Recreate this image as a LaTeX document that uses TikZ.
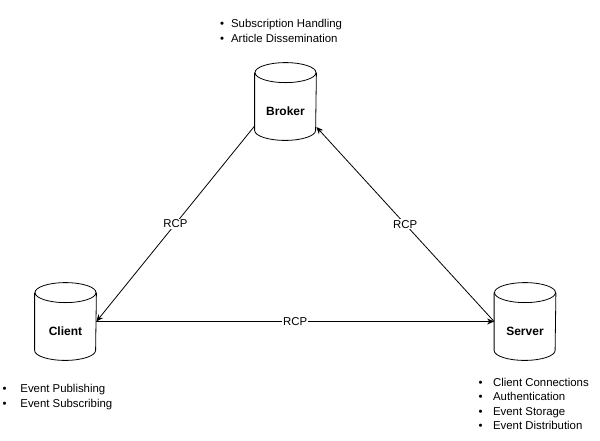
\documentclass[tikz,border=0pt]{standalone}
\usepackage{fontspec}
\setmainfont{Liberation Sans}
\usetikzlibrary{arrows.meta, positioning}

\newcommand{\pkt}[1][11pt]{\makebox[#1][l]{\textbullet}}

\tikzset{
	db/.style={draw=none, inner sep=0pt, minimum width=61pt, minimum height=77pt},
	dbtext/.style={font=\bfseries\fontsize{12}{14}\selectfont, yshift=-10pt},
	rcp/.style={fill=white, inner sep=1pt, font=\fontsize{11.4}{13}\selectfont},
	liste/.style={anchor=north west, align=left, inner sep=0pt, font=\fontsize{11.4}{15}\selectfont},
}

\begin{document}
\begin{tikzpicture}[x=1pt, y=-1pt, line width=0.8pt, >={Stealth[length=7pt,width=6pt]}]
		\useasboundingbox[fill=white] (0,0) rectangle (600,440);
		
		% Knoten
		\node[db, label={[dbtext]center:Broker}] (broker) at (285.5,101.5) {};
		\node[db, label={[dbtext]center:Client}] (client) at (65.5,321.5) {};
		\node[db, label={[dbtext]center:Server}] (server) at (525,321.5) {};
		
		% Zylinder
		\foreach \n in {broker,client,server}{
			\draw ([yshift=-10pt]\n.north west) -- ([yshift=10pt]\n.south west)
				arc[start angle=180, end angle=360, x radius=30.5pt, y radius=10pt]
				-- ([yshift=-10pt]\n.north east);
			\draw ([yshift=-10pt]\n.north) ellipse[x radius=30.5pt, y radius=10pt];
		}
		
		% Verbindungen
		\draw[->] ([yshift=-24.5pt]broker.west) -- node[rcp] (rcpl) {RCP} (client.east);
		\draw[->] (server.west) -- node[rcp] (rcpr) {RCP} ([yshift=-25.5pt]broker.east);
		\draw[->] (client.east) -- node[rcp] (rcpu) {RCP} (server.west);
		
		% Aufgaben
		\node[liste] (lbroker) at (219.8,18.5) {\pkt[10.9pt]Subscription Handling\\ \pkt[10.9pt]Article Dissemination};
		\node[liste] (lclient) at (2.1,383.5) {\pkt[17.9pt]Event Publishing\\ \pkt[17.9pt]Event Subscribing};
		\node[liste, font=\fontsize{11.4}{14.4}\selectfont] (lserver) at (478.1,377.8) {\pkt[14.6pt]Client Connections\\ \pkt[14.6pt]Authentication\\ \pkt[14.6pt]Event Storage\\ \pkt[14.6pt]Event Distribution};
\end{tikzpicture}
\end{document}
